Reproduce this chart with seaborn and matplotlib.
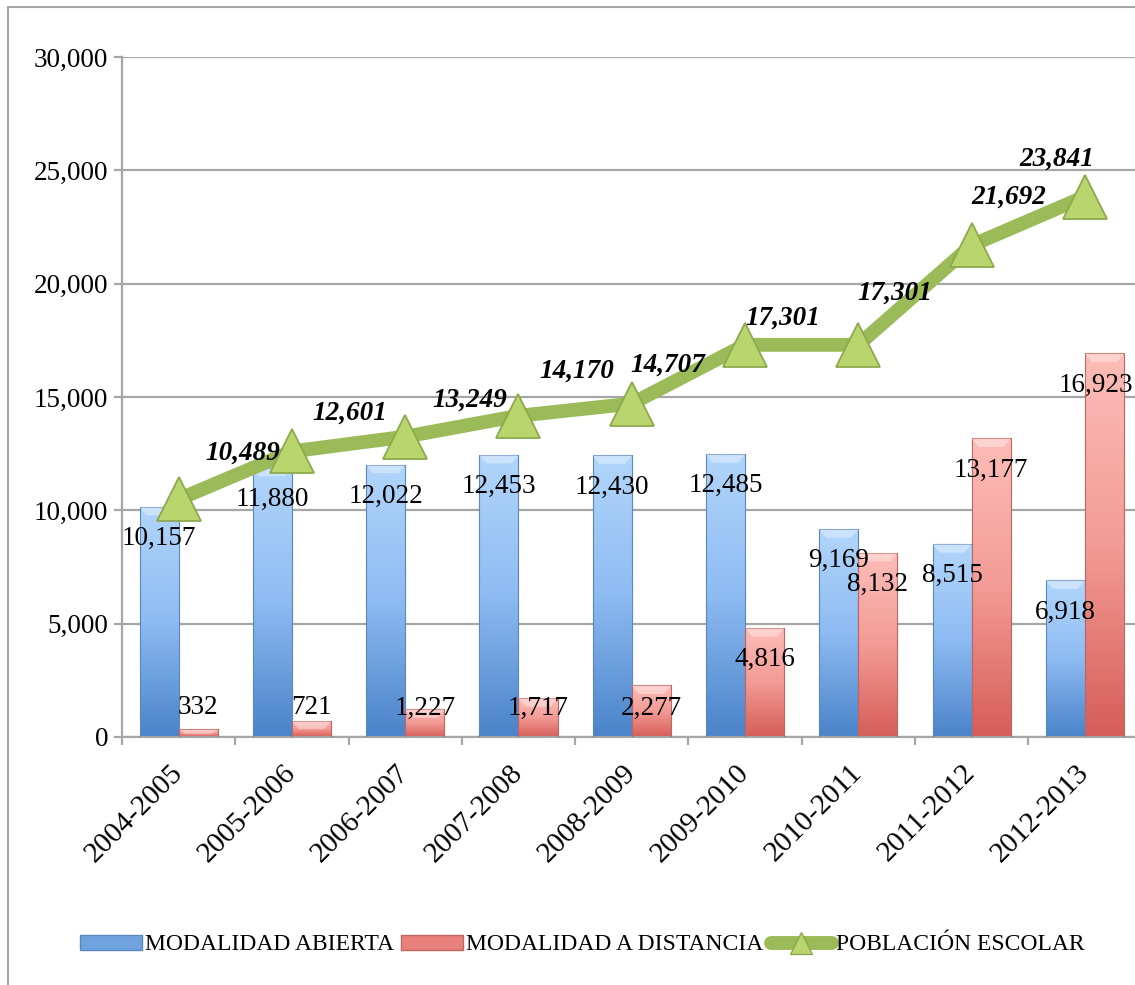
import matplotlib
matplotlib.use('Agg')
import matplotlib.pyplot as plt
import numpy as np
import pandas as pd
import seaborn as sns
from matplotlib.colors import LinearSegmentedColormap
from matplotlib.lines import Line2D
from matplotlib.patches import Patch, Rectangle, Polygon
from matplotlib.ticker import FuncFormatter

# datos
ciclos = ['2004-2005', '2005-2006', '2006-2007', '2007-2008', '2008-2009',
          '2009-2010', '2010-2011', '2011-2012', '2012-2013']
abierta = [10157, 11880, 12022, 12453, 12430, 12485, 9169, 8515, 6918]
distancia = [332, 721, 1227, 1717, 2277, 4816, 8132, 13177, 16923]
poblacion = [10489, 12601, 13249, 14170, 14707, 17301, 17301, 21692, 23841]

# desplazamiento manual de las etiquetas de la linea (px)
label_offsets = [(64, 46), (58, 38), (65, 37), (58, 45), (36, 38),
                 (38, 27), (36, 52), (37, 48), (-28, 37)]

sns.set_theme(style='white')
plt.rcParams['font.family'] = ['Liberation Serif', 'DejaVu Serif']
plt.rcParams['text.color'] = 'black'
plt.rcParams['xtick.color'] = 'black'
plt.rcParams['ytick.color'] = 'black'

df = pd.DataFrame({
    'ciclo': ciclos * 2,
    'modalidad': ['MODALIDAD ABIERTA'] * len(ciclos) + ['MODALIDAD A DISTANCIA'] * len(ciclos),
    'alumnos': abierta + distancia,
})

blue_mid, red_mid, green = '#6FA3E0', '#E8807B', '#9BBB59'
cmap_blue = LinearSegmentedColormap.from_list('b', ['#B2D6FB', '#8DBBF2', '#4A83CA'])
cmap_red = LinearSegmentedColormap.from_list('r', ['#FDBDB8', '#F39B96', '#D65D57'])

fig = plt.figure(figsize=(11.35, 9.85), dpi=100)
ax = fig.add_axes([122 / 1135, 1 - 737 / 985, 1019.5 / 1135, 680 / 985])

sns.barplot(data=df, x='ciclo', y='alumnos', hue='modalidad',
            palette=[blue_mid, red_mid], width=0.69, saturation=1,
            errorbar=None, legend=False, ax=ax, zorder=2)

# relleno con degradado y bisel superior
grad = np.linspace(0, 1, 256).reshape(-1, 1)
for p in list(ax.patches):
    x0, w, h = p.get_x(), p.get_width(), p.get_height()
    if h <= 0:
        continue
    fc = p.get_facecolor()
    cm = cmap_blue if fc[2] > fc[0] else cmap_red
    edge = '#5A86BE' if cm is cmap_blue else '#C06560'
    im = ax.imshow(grad, extent=[x0, x0 + w, 0, h], aspect='auto',
                   cmap=cm, zorder=2, interpolation='bicubic')
    im.set_clip_path(p)
    p.set_facecolor('none')
    p.set_edgecolor(edge)
    p.set_linewidth(0.8)
    p.set_zorder(3)
    dy = min(380, h * 0.6)
    bev = Polygon([[x0, h], [x0 + w, h], [x0 + w - 0.06, h - dy], [x0 + 0.06, h - dy]],
                  closed=True, facecolor='white', alpha=0.35, edgecolor='none', zorder=3)
    ax.add_patch(bev)

# etiquetas de barras (dentro del extremo)
bar_texts = []
for i, (a, d) in enumerate(zip(abierta, distancia)):
    bar_texts.append(ax.text(i - 0.1725, max(a - 1400, 1280), f'{a:,}', ha='center',
                             va='center', fontsize=19.5, zorder=6))
    bar_texts.append(ax.text(i + 0.1725, max(d - 1400, 1280), f'{d:,}', ha='center',
                             va='center', fontsize=19.5, zorder=6))

# linea de poblacion escolar
sns.pointplot(x=ciclos, y=poblacion, ax=ax, color=green, markers='^',
              linestyles='-', errorbar=None, linewidth=10, markersize=31,
              markerfacecolor='#B8D56E', markeredgecolor='#8DA94C',
              markeredgewidth=1.3)
for ln in ax.lines:
    ln.set_zorder(5)
    ln.set_solid_joinstyle('miter')

for i, v in enumerate(poblacion):
    dx, dy = label_offsets[i]
    ax.annotate(f'{v:,}', (i, v), xytext=(dx * 0.72, dy * 0.72),
                textcoords='offset points', ha='center', va='center',
                fontsize=19.5, fontweight='bold', fontstyle='italic', zorder=7)

# ejes
ax.set_xlim(-0.5, len(ciclos) - 0.5)
ax.set_ylim(0, 30000)
ax.set_yticks(range(0, 30001, 5000))
ax.yaxis.set_major_formatter(FuncFormatter(lambda v, _: f'{int(v):,}'))
ax.set_xlabel('')
ax.set_ylabel('')
ax.grid(axis='y', color='#A6A6A6', linewidth=1.6, zorder=0)
ax.set_axisbelow(True)
for s in ['top', 'right']:
    ax.spines[s].set_visible(False)
for s in ['left', 'bottom']:
    ax.spines[s].set_color('#A6A6A6')
    ax.spines[s].set_linewidth(1.6)

ax.tick_params(axis='y', which='major', direction='out', length=6, width=1.6,
               color='#A6A6A6', labelsize=19.5, labelcolor='black', left=True, pad=4)
ax.set_xticks(np.arange(-0.5, len(ciclos)), minor=True)
ax.tick_params(axis='x', which='minor', direction='out', length=6, width=1.6,
               color='#A6A6A6', bottom=True)
ax.tick_params(axis='x', which='major', length=0, labelsize=21, labelcolor='black', pad=23)
plt.setp(ax.get_xticklabels(), rotation=45, ha='right', va='center',
         rotation_mode='anchor')

# leyenda
handles = [
    Patch(facecolor=blue_mid, edgecolor='#5A86BE'),
    Patch(facecolor=red_mid, edgecolor='#C06560'),
    Line2D([0], [0], color=green, lw=10, marker='^', markersize=16,
           markerfacecolor='#B8D56E', markeredgecolor='#8DA94C'),
]
fig.legend(handles, ['MODALIDAD ABIERTA', 'MODALIDAD A DISTANCIA', 'POBLACIÓN ESCOLAR'],
           loc='center', bbox_to_anchor=(0.513, 1 - 945 / 985), ncol=3,
           frameon=False, fontsize=17, handlelength=2.6, handleheight=0.6,
           handletextpad=0.15, columnspacing=0.3)

# marco exterior
fig.add_artist(Rectangle((8 / 1135, -0.1), 1.2, 1.1 - 7 / 985, transform=fig.transFigure,
                         fill=False, edgecolor='#A6A6A6', linewidth=1.5))

# etiquetas que se salen por la derecha: se corren hacia dentro
fig.canvas.draw()
renderer = fig.canvas.get_renderer()
px_per_cat = ax.get_window_extent().width / len(ciclos)
for t in bar_texts:
    bb = t.get_window_extent(renderer)
    over = bb.x1 - (fig.bbox.width - 2)
    if over > 0:
        t.set_x(t.get_position()[0] - over / px_per_cat)

fig.savefig('out.png', dpi=100)
